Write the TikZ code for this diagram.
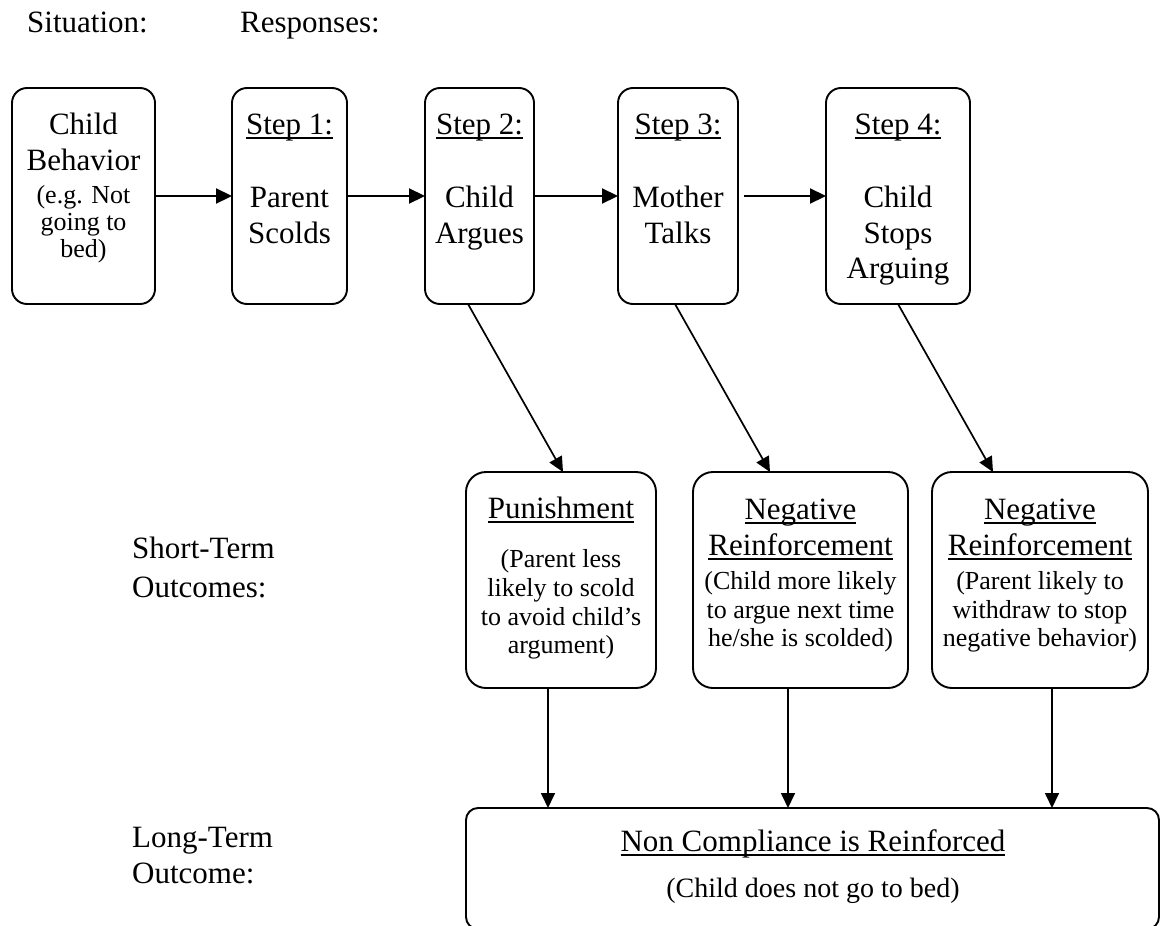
\documentclass[tikz,border=0pt]{standalone}
\usepackage{fontspec}
\setmainfont{Liberation Serif}
\usetikzlibrary{arrows.meta}
\newcommand\ulx[1]{\setbox0\hbox{#1}\rlap{\rule[-4.5pt]{\wd0}{1.8pt}}\box0}
\newcommand\Lf{\fontsize{31}{36}\selectfont}
\newcommand\Sf{\fontsize{26}{28}\selectfont}
\newcommand\Mf{\fontsize{28}{30}\selectfont}
\tikzset{
  box/.style={draw, line width=1.9pt, inner sep=0pt, outer sep=0pt},
  L/.style={anchor=base, inner sep=0pt, font=\Lf},
  S/.style={anchor=base, inner sep=0pt, font=\Sf},
  arr/.style={line width=1.7pt, -{Triangle[length=15pt,width=14pt]}},
  harr/.style={line width=2.2pt, -{Triangle[length=16pt,width=15pt]}},
}
\begin{document}
\begin{tikzpicture}[x=1pt,y=-1pt]
\useasboundingbox (0,0) rectangle (1162,926);

% headers
\node[L, anchor=base west] (hs) at (27,32) {Situation:};
\node[L, anchor=base west] (hr) at (240,32) {Responses:};

% top row boxes
\node[box, rounded corners=15pt, minimum width=143pt, minimum height=216pt] (b0) at (83.5,196) {};
\node[box, rounded corners=15pt, minimum width=115pt, minimum height=216pt] (b1) at (289.5,196) {};
\node[box, rounded corners=15pt, minimum width=109pt, minimum height=216pt] (b2) at (479.5,196) {};
\node[box, rounded corners=15pt, minimum width=120pt, minimum height=216pt] (b3) at (678,196) {};
\node[box, rounded corners=15pt, minimum width=144pt, minimum height=216pt] (b4) at (898,196) {};

% top row texts
\node[L] (t0a) at (83.5,134) {Child};
\node[L] (t0b) at (83.5,170) {Behavior};
\node[S] (t0c) at (83.5,203) {(e.g. Not};
\node[S] (t0d) at (83.5,230) {going to};
\node[S] (t0e) at (83.5,257) {bed)};

\node[L] (t1a) at (289.5,134) {\ulx{Step 1:}};
\node[L] (t1b) at (289.5,207) {Parent};
\node[L] (t1c) at (289.5,243) {Scolds};

\node[L] (t2a) at (479.5,134) {\ulx{Step 2:}};
\node[L] (t2b) at (479.5,207) {Child};
\node[L] (t2c) at (479.5,243) {Argues};

\node[L] (t3a) at (678,134) {\ulx{Step 3:}};
\node[L] (t3b) at (678,207) {Mother};
\node[L] (t3c) at (678,243) {Talks};

\node[L] (t4a) at (898,134) {\ulx{Step 4:}};
\node[L] (t4b) at (898,207) {Child};
\node[L] (t4c) at (898,243) {Stops};
\node[L] (t4d) at (898,278) {Arguing};

% horizontal arrows
\draw[harr] (b0.east) -- (b1.west);
\draw[harr] (b1.east) -- (b2.west);
\draw[harr] (b2.east) -- (b3.west);
\draw[harr, shorten <=6pt] (b3.east) -- (b4.west);

% left labels
\node[L, anchor=base west] (ls1) at (132,558) {Short-Term};
\node[L, anchor=base west] (ls2) at (132,597) {Outcomes:};
\node[L, anchor=base west] (ll1) at (132,847) {Long-Term};
\node[L, anchor=base west] (ll2) at (132,883) {Outcome:};

% middle boxes
\node[box, rounded corners=20pt, minimum width=190pt, minimum height=216pt] (b5) at (561,580) {};
\node[box, rounded corners=20pt, minimum width=215pt, minimum height=216pt] (b6) at (800.5,580) {};
\node[box, rounded corners=20pt, minimum width=216pt, minimum height=216pt] (b7) at (1040,580) {};

\node[L] (t5a) at (561,518) {\ulx{Punishment}};
\node[S] (t5b) at (561,567) {(Parent less};
\node[S] (t5c) at (561,596) {likely to scold};
\node[S] (t5d) at (561,625) {to avoid child’s};
\node[S] (t5e) at (561,653) {argument)};

\node[L] (t6a) at (800.5,519) {\ulx{Negative}};
\node[L] (t6b) at (800.5,555) {\ulx{Reinforcement}};
\node[S] (t6c) at (800.5,589) {(Child more likely};
\node[S] (t6d) at (800.5,618) {to argue next time};
\node[S] (t6e) at (800.5,646) {he/she is scolded)};

\node[L] (t7a) at (1040,519) {\ulx{Negative}};
\node[L] (t7b) at (1040,555) {\ulx{Reinforcement}};
\node[S] (t7c) at (1040,589) {(Parent likely to};
\node[S] (t7d) at (1040,618) {withdraw to stop};
\node[S] (t7e) at (1040,646) {negative behavior)};

% bottom box (cut by the lower edge)
\node[box, rounded corners=12pt, minimum width=693pt, minimum height=121pt] (b8) at (812.5,868.5) {};
\node[L] (t8a) at (813,851) {\ulx{Non Compliance is Reinforced}};
\node[anchor=base, inner sep=0pt, font=\Mf] (t8b) at (813,897) {(Child does not go to bed)};

% diagonal arrows
\draw[arr] ([xshift=-11.5pt]b2.south) -- ([xshift=2pt]b5.north);
\draw[arr] ([xshift=-3pt]b3.south) -- ([xshift=-30.5pt]b6.north);
\draw[arr] (b4.south) -- ([xshift=-47pt]b7.north);

% vertical arrows
\draw[arr] ([xshift=-13pt]b5.south) -- ([xshift=-13pt]b5.south |- b8.north);
\draw[arr] ([xshift=-12.5pt]b6.south) -- ([xshift=-12.5pt]b6.south |- b8.north);
\draw[arr] ([xshift=12pt]b7.south) -- ([xshift=12pt]b7.south |- b8.north);
\end{tikzpicture}
\end{document}
